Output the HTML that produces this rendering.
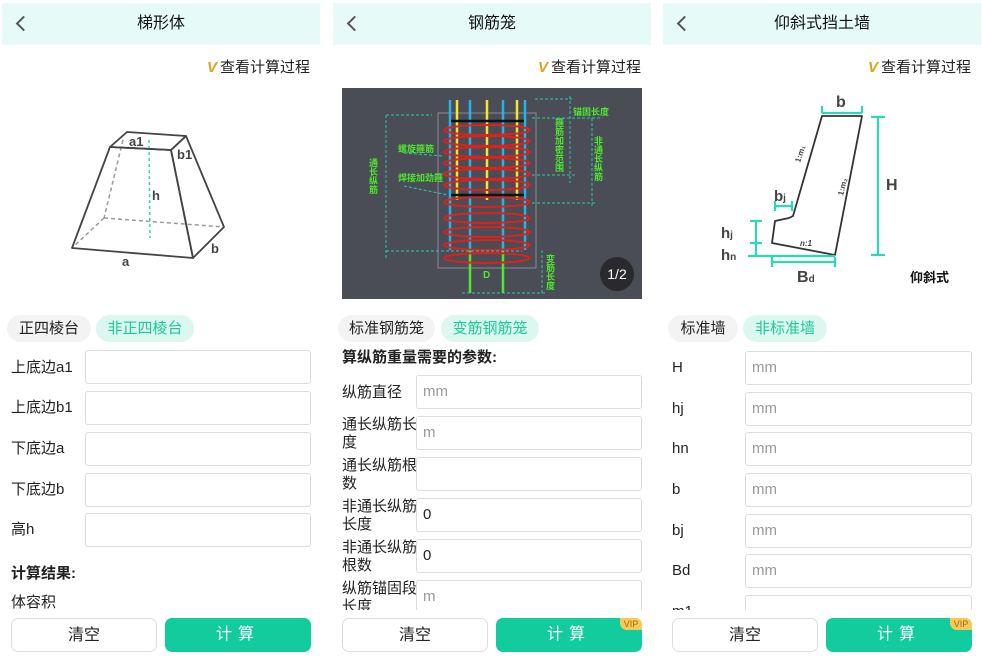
<!DOCTYPE html>
<html><head><meta charset="utf-8">
<style>
*{margin:0;padding:0;box-sizing:border-box}
body{width:982px;height:664px;background:#fff;position:relative;overflow:hidden;font-family:"Liberation Sans","Noto Sans CJK SC",sans-serif;color:#222}
.a{position:absolute}
.hdr{position:absolute;top:3px;height:42px;background:#e6fbf8;font-size:16px;text-align:center;line-height:42px;color:#111}
.back{position:absolute;left:16px;top:15px;width:11px;height:11px;border-left:2px solid #555;border-bottom:2px solid #555;transform:rotate(45deg)}
.vip{position:absolute;font-size:15px;color:#222}
.vip b{color:#e0a21a;font-style:italic;font-weight:bold;margin-right:3px}
.pill{position:absolute;height:27px;line-height:27px;border-radius:14px;font-size:15px;text-align:center;background:#f3f3f3;color:#222}
.pill.on{background:#dcf7ef;color:#1cc99a}
.lab{position:absolute;font-size:15px;line-height:18px;color:#222}
.inp{position:absolute;height:34px;border:1px solid #ddd;border-radius:3px;background:#fff;font-size:15px;color:#999;padding-left:6px;line-height:32px}
.inp.v{color:#222}
.btn{position:absolute;top:618px;height:34px;border-radius:7px;font-size:16px;text-align:center;line-height:34px}
.w{border:1px solid #ddd;background:#fff;color:#222}
.g{background:#12cc9e;color:#fff;letter-spacing:6px;overflow:hidden}
.g i{position:absolute;right:0;top:0;width:22px;height:12px;background:#f7c95a;color:#a86a00;font-size:9px;font-style:normal;letter-spacing:0;line-height:12px;border-bottom-left-radius:7px}
.clip{position:absolute;overflow:hidden}
</style></head><body>

<!-- Panel 1 -->
<div class="hdr" style="left:2px;width:318px">梯形体<span class="back"></span></div>
<div class="vip" style="left:207px;top:56px"><b>V</b>查看计算过程</div>
<svg class="a" style="left:0;top:80px" width="321" height="200" viewBox="0 80 321 200">
<g fill="none" stroke="#999" stroke-width="1.5" stroke-dasharray="4,3">
<line x1="123" y1="140" x2="104" y2="218"/><line x1="104" y1="218" x2="224" y2="227"/><line x1="104" y1="218" x2="72" y2="248"/>
</g>
<line x1="149" y1="140" x2="150" y2="238" stroke="#2bd9b8" stroke-width="1.5" stroke-dasharray="3,3"/>
<g fill="none" stroke="#444" stroke-width="1.8" stroke-linejoin="round">
<polygon points="127,132 186,136 171,150 110,147"/>
<polygon points="110,147 171,150 193,258 72,248"/>
<polygon points="171,150 186,136 224,227 193,258"/>
</g>
<g font-size="13" font-weight="bold" fill="#444">
<text x="129" y="146">a1</text><text x="177" y="159">b1</text><text x="152" y="200">h</text><text x="122" y="266">a</text><text x="211" y="253">b</text>
</g>
</svg>
<div class="pill" style="left:7px;top:315px;width:84px">正四棱台</div>
<div class="pill on" style="left:96px;top:315px;width:98px">非正四棱台</div>
<div class="lab" style="left:11px;top:359px">上底边a1</div><div class="inp" style="left:85px;top:350px;width:226px"></div>
<div class="lab" style="left:11px;top:399px">上底边b1</div><div class="inp" style="left:85px;top:391px;width:226px"></div>
<div class="lab" style="left:11px;top:440px">下底边a</div><div class="inp" style="left:85px;top:432px;width:226px"></div>
<div class="lab" style="left:11px;top:481px">下底边b</div><div class="inp" style="left:85px;top:473px;width:226px"></div>
<div class="lab" style="left:11px;top:521px">高h</div><div class="inp" style="left:85px;top:513px;width:226px"></div>
<div class="lab" style="left:11px;top:565px;font-weight:bold">计算结果:</div>
<div class="lab" style="left:11px;top:594px">体容积</div>
<div class="btn w" style="left:11px;width:146px">清空</div>
<div class="btn g" style="left:165px;width:146px">计算</div>

<!-- Panel 2 -->
<div class="hdr" style="left:333px;width:318px">钢筋笼<span class="back"></span></div>
<div class="vip" style="left:538px;top:56px"><b>V</b>查看计算过程</div>
<svg class="a" style="left:342px;top:88px" width="300" height="211" viewBox="0 0 300 211">
<rect width="300" height="211" fill="#4a4c56"/>
<rect x="96" y="25" width="98" height="155" fill="none" stroke="#8a8c94" stroke-width="1"/>
<g stroke="#26b4e8" stroke-width="2.5"><line x1="108" y1="12" x2="108" y2="162"/><line x1="128" y1="12" x2="128" y2="162"/><line x1="161" y1="12" x2="161" y2="162"/><line x1="183" y1="12" x2="183" y2="162"/></g>
<g stroke="#f0e830" stroke-width="2.5"><line x1="115" y1="12" x2="115" y2="112"/><line x1="145" y1="12" x2="145" y2="112"/><line x1="175" y1="12" x2="175" y2="112"/></g>
<g stroke="#4ee82c" stroke-width="2.5"><line x1="128" y1="162" x2="128" y2="205"/><line x1="161" y1="162" x2="161" y2="205"/></g>
<g fill="none" stroke="#e0201a" stroke-width="2">
<ellipse cx="145" cy="42" rx="43" ry="5"/><ellipse cx="145" cy="53" rx="43" ry="5"/><ellipse cx="145" cy="64" rx="43" ry="5"/><ellipse cx="145" cy="75" rx="43" ry="5"/><ellipse cx="145" cy="86" rx="43" ry="5"/><ellipse cx="145" cy="97" rx="43" ry="5"/><ellipse cx="145" cy="114" rx="43" ry="5"/><ellipse cx="145" cy="130" rx="43" ry="5"/><ellipse cx="145" cy="144" rx="43" ry="5"/><ellipse cx="145" cy="157" rx="43" ry="5"/><ellipse cx="145" cy="170" rx="43" ry="5"/>
</g>
<g stroke="#111" stroke-width="2.5"><line x1="109" y1="33" x2="182" y2="33"/><line x1="109" y1="107" x2="182" y2="107"/></g>
<g stroke="#2bc9b0" stroke-width="1" stroke-dasharray="3,2" fill="none">
<line x1="44" y1="27" x2="90" y2="27"/><line x1="44" y1="163" x2="180" y2="163"/><line x1="44" y1="27" x2="44" y2="170"/>
<line x1="193" y1="11" x2="230" y2="11"/><line x1="228" y1="8" x2="228" y2="95"/><line x1="190" y1="30" x2="258" y2="30"/><line x1="190" y1="87" x2="235" y2="87"/>
<line x1="250" y1="30" x2="250" y2="118"/><line x1="190" y1="115" x2="255" y2="115"/>
<line x1="200" y1="162" x2="200" y2="205"/><line x1="120" y1="205" x2="205" y2="205"/>
<line x1="62" y1="65" x2="100" y2="68"/><line x1="62" y1="98" x2="106" y2="107"/>
</g>
<g fill="#4ee82c" font-size="9" font-weight="bold">
<text x="231" y="27">锚固长度</text><text x="56" y="64">螺旋箍筋</text><text x="56" y="93">焊接加劲箍</text>
<text x="141" y="190" font-size="10">D</text>
<text x="31" y="70" writing-mode="tb">通长纵筋</text><text x="217" y="30" writing-mode="tb">箍筋加密范围</text><text x="256" y="48" writing-mode="tb">非通长纵筋</text><text x="208" y="166" writing-mode="tb">变筋长度</text>
</g>
<circle cx="275" cy="186" r="17" fill="#2a2a2e"/>
<text x="275" y="191" fill="#fff" font-size="14" text-anchor="middle">1/2</text>
</svg>
<div class="pill" style="left:338px;top:315px;width:97px">标准钢筋笼</div>
<div class="pill on" style="left:441px;top:315px;width:98px">变筋钢筋笼</div>
<div class="lab" style="left:342px;top:349px;font-weight:bold">算纵筋重量需要的参数:</div>
<div class="clip" style="left:333px;top:370px;width:320px;height:240px">
<div class="lab" style="left:9px;top:14px">纵筋直径</div><div class="inp" style="left:83px;top:5px;width:226px">mm</div>
<div class="lab" style="left:9px;top:46px">通长纵筋长<br>度</div><div class="inp" style="left:83px;top:46px;width:226px">m</div>
<div class="lab" style="left:9px;top:87px">通长纵筋根<br>数</div><div class="inp" style="left:83px;top:87px;width:226px"></div>
<div class="lab" style="left:9px;top:128px">非通长纵筋<br>长度</div><div class="inp v" style="left:83px;top:128px;width:226px">0</div>
<div class="lab" style="left:9px;top:169px">非通长纵筋<br>根数</div><div class="inp v" style="left:83px;top:169px;width:226px">0</div>
<div class="lab" style="left:9px;top:210px">纵筋锚固段<br>长度</div><div class="inp" style="left:83px;top:210px;width:226px">m</div>
</div>
<div class="btn w" style="left:342px;width:146px">清空</div>
<div class="btn g" style="left:496px;width:146px">计算<i>VIP</i></div>

<!-- Panel 3 -->
<div class="hdr" style="left:663px;width:318px">仰斜式挡土墙<span class="back"></span></div>
<div class="vip" style="left:868px;top:56px"><b>V</b>查看计算过程</div>
<svg class="a" style="left:663px;top:80px" width="319" height="220" viewBox="663 80 319 220">
<polygon points="822,116 862,116 835,255 772,243 775,221 789,218 793,216" fill="none" stroke="#333" stroke-width="1.8" stroke-linejoin="round"/>
<g stroke="#2bd9b8" stroke-width="2.2" fill="none">
<line x1="822" y1="113" x2="862" y2="113"/><line x1="822" y1="106" x2="822" y2="113"/><line x1="862" y1="106" x2="862" y2="113"/>
<line x1="878" y1="117" x2="878" y2="255"/><line x1="871" y1="117" x2="885" y2="117"/><line x1="871" y1="255" x2="885" y2="255"/>
<line x1="772" y1="262" x2="835" y2="262"/><line x1="772" y1="257" x2="772" y2="267"/><line x1="835" y1="257" x2="835" y2="267"/>
<line x1="756" y1="221" x2="756" y2="256"/><line x1="750" y1="221" x2="762" y2="221"/><line x1="750" y1="243" x2="762" y2="243"/><line x1="748" y1="256" x2="835" y2="256"/>
<line x1="775" y1="206" x2="792" y2="206"/><line x1="775" y1="201" x2="775" y2="211"/><line x1="792" y1="201" x2="792" y2="211"/>
</g>
<g fill="#444" font-weight="bold">
<text x="836" y="107" font-size="16">b</text><text x="886" y="190" font-size="16">H</text>
<text x="774" y="201" font-size="15">b<tspan font-size="10">j</tspan></text>
<text x="721" y="238" font-size="15">h<tspan font-size="10">j</tspan></text><text x="721" y="260" font-size="15">h<tspan font-size="10">n</tspan></text>
<text x="797" y="282" font-size="16">B<tspan font-size="10">d</tspan></text>
<text x="910" y="282" font-size="13" fill="#111">仰斜式</text>
<text x="800" y="163" font-size="8" transform="rotate(-72 800 163)">1:m₁</text>
<text x="843" y="196" font-size="8" transform="rotate(-76 843 196)">1:m₂</text>
<text x="800" y="246" font-size="8" font-style="italic">n:1</text>
</g>
</svg>
<div class="pill" style="left:668px;top:315px;width:70px">标准墙</div>
<div class="pill on" style="left:743px;top:315px;width:84px">非标准墙</div>
<div class="clip" style="left:663px;top:345px;width:319px;height:265px">
<div class="lab" style="left:9px;top:14px">H</div><div class="inp" style="left:82px;top:6px;width:227px">mm</div>
<div class="lab" style="left:9px;top:55px">hj</div><div class="inp" style="left:82px;top:47px;width:227px">mm</div>
<div class="lab" style="left:9px;top:95px">hn</div><div class="inp" style="left:82px;top:87px;width:227px">mm</div>
<div class="lab" style="left:9px;top:136px">b</div><div class="inp" style="left:82px;top:128px;width:227px">mm</div>
<div class="lab" style="left:9px;top:177px">bj</div><div class="inp" style="left:82px;top:169px;width:227px">mm</div>
<div class="lab" style="left:9px;top:217px">Bd</div><div class="inp" style="left:82px;top:209px;width:227px">mm</div>
<div class="lab" style="left:9px;top:258px">m1</div><div class="inp" style="left:82px;top:250px;width:227px"></div>
</div>
<div class="btn w" style="left:672px;width:146px">清空</div>
<div class="btn g" style="left:826px;width:146px">计算<i>VIP</i></div>
</body></html>
